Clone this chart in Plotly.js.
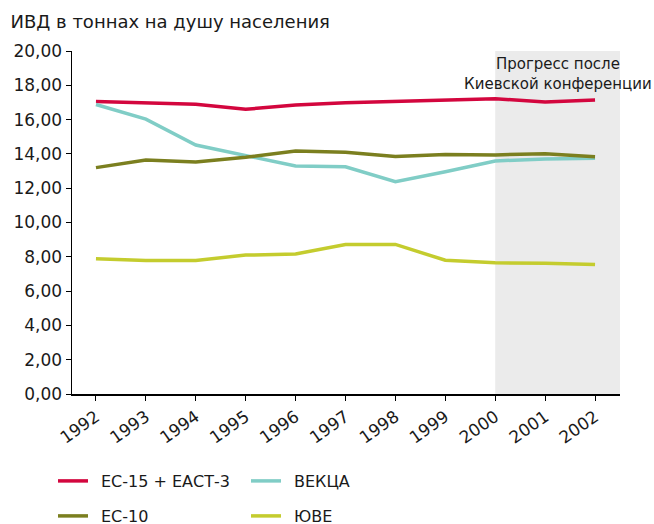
<!DOCTYPE html>
<html>
<head>
<meta charset="utf-8">
<script src="https://cdn.plot.ly/plotly-3.0.1.min.js"></script>
<style>html,body{margin:0;padding:0;background:#fff;}#chart{width:654px;height:524px;}</style>
</head>
<body>
<div id="chart"></div>
<script>
const years = [1992,1993,1994,1995,1996,1997,1998,1999,2000,2001,2002];
const yearLabels = ["1992","1993","1994","1995","1996","1997","1998","1999","2000","2001","2002"];
const eu15efta3 = [17.05,16.95,16.9,16.6,16.85,16.98,17.06,17.14,17.22,17.03,17.14];
const eeca = [16.88,16.03,14.52,13.9,13.29,13.25,12.38,12.96,13.59,13.7,13.74];
const eu10 = [13.2,13.64,13.53,13.8,14.17,14.1,13.85,13.97,13.94,14.01,13.84];
const see = [7.89,7.79,7.79,8.1,8.16,8.71,8.72,7.8,7.65,7.63,7.55];
const yTicks = [0,2,4,6,8,10,12,14,16,18,20];
const yTickLabels = ["0,00","2,00","4,00","6,00","8,00","10,00","12,00","14,00","16,00","18,00","20,00"];
const names = ["ЕС-15 + ЕАСТ-3","ВЕКЦА","ЕС-10","ЮВЕ"];
const colors = ["#d3063e","#80cdc6","#7b7f1f","#c4cc2e"];
const series = [eu15efta3, eeca, eu10, see];
const legendIds = ["legend","legend","legend2","legend2"];

const font = "DejaVu Sans, Verdana, sans-serif";
const traces = series.map((s,i)=>({
  x: years, y: s, type:"scatter", mode:"lines", name:"\u2002" + names[i],
  line:{color:colors[i], width:3.5}, legend: legendIds[i], hoverinfo:"skip"
}));

const legendBase = {orientation:"h", xref:"container", x:53/654, xanchor:"left", yref:"container", yanchor:"middle", entrywidth:148, entrywidthmode:"pixels", font:{family:font, size:16, color:"#1a1a1a"}, bgcolor:"rgba(0,0,0,0)", itemclick:false, itemdoubleclick:false};

const layout = {
  width:654, height:524,
  margin:{l:72, r:34, t:51, b:130},
  paper_bgcolor:"#fff", plot_bgcolor:"rgba(0,0,0,0)",
  font:{family:font, size:16, color:"#1a1a1a"},
  title:{text:"ИВД в тоннах на душу населения", x:0.016, xanchor:"left", xref:"container", y:1-22/524, yanchor:"middle", yref:"container", font:{family:font, size:18, color:"#1a1a1a"}},
  xaxis:{range:[1991.52,2002.5], tickvals:years, ticktext:yearLabels, tickangle:-35, ticks:"outside", ticklen:5, tickcolor:"#000", showline:true, linecolor:"#000", linewidth:1.5, showgrid:false, zeroline:false, automargin:false, tickfont:{family:font, size:17, color:"#1a1a1a"}, fixedrange:true},
  yaxis:{range:[0,20], tickvals:yTicks, ticktext:yTickLabels, ticks:"outside", ticklen:5, tickcolor:"#000", showline:true, linecolor:"#000", linewidth:1.5, showgrid:false, zeroline:false, automargin:false, tickfont:{family:font, size:17, color:"#1a1a1a"}, fixedrange:true},
  shapes:[{type:"rect", xref:"x", yref:"y", x0:2000, x1:2002.5, y0:0, y1:20, fillcolor:"#ebebeb", line:{width:0}, layer:"below"}],
  annotations:[{xref:"paper", yref:"paper", x:(557.5-72)/548, y:(394-74)/343, xanchor:"center", yanchor:"middle", showarrow:false, align:"center", text:"Прогресс после<br>Киевской конференции", font:{family:font, size:15, color:"#1a1a1a"}}],
  showlegend:true,
  legend:Object.assign({}, legendBase, {y:1-481/524}),
  legend2:Object.assign({}, legendBase, {y:1-516/524})
};
Plotly.newPlot("chart", traces, layout, {displayModeBar:false, staticPlot:true});
</script>
</body>
</html>
